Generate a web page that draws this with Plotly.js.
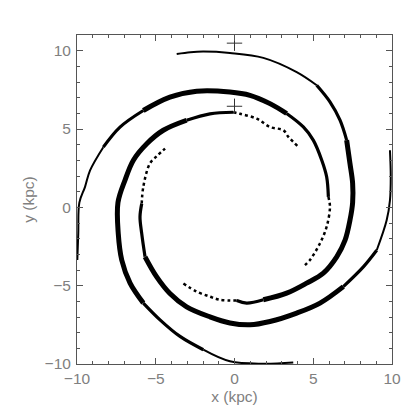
<!DOCTYPE html>
<html>
<head>
<meta charset="utf-8">
<script src="https://cdn.plot.ly/plotly-3.0.1.min.js"></script>
<style>
  html, body { margin: 0; padding: 0; background: #fff; }
  #chart { width: 415px; height: 415px; }
</style>
</head>
<body>
<div id="chart"></div>
<script>
// Arm traced from the top (-3.7, 9.8), winding clockwise inwards
const arm1X = [-3.67, -2.8, -1.98, -0.29, 1.83, 3.95, 5.22, 6.06, 6.70, 7.12, 7.33, 7.50, 7.50, 7.33, 7.02, 6.49, 5.64, 4.58, 3.31, 1.83, 0.77, 0.14, -0.92, -1.56, -2.4, -3.25];
const arm1Y = [9.79, 9.9, 9.94, 9.85, 9.54, 8.63, 7.79, 6.73, 5.56, 4.29, 2.80, 1.53, 0.3, -0.83, -2.10, -3.16, -4.2, -4.84, -5.48, -5.9, -6.11, -5.95, -5.9, -5.7, -5.38, -4.86];

// Arm starting on the right edge (10, 3.6)
const arm2X = [9.87, 9.92, 9.87, 9.66, 9.03, 8.18, 6.91, 5.43, 3.95, 2.25, 0.98, -0.29, -1.56, -3.04, -4.1, -4.94, -5.68, -5.89, -6.0, -5.89, -5.79, -5.37, -4.9, -4.41];
const arm2Y = [3.64, 2.0, 0.45, -0.83, -2.74, -3.8, -5.06, -6.11, -6.75, -7.29, -7.5, -7.38, -6.99, -6.35, -5.5, -4.44, -3.16, -1.68, -0.6, 0.24, 1.31, 2.8, 3.3, 3.75];

// Arm starting at the bottom (3.7, -9.9)
const arm3X = [3.73, 1.83, -0.29, -1.98, -3.46, -4.73, -5.79, -6.63, -7.16, -7.38, -7.4, -6.95, -6.42, -5.57, -4.52, -3.04, -1.56, -0.08, 0.35, 1.41, 2.25, 3.1, 3.42, 4.05];
const arm3Y = [-9.9, -9.98, -9.83, -9.09, -8.24, -7.18, -6.11, -4.84, -3.36, -1.68, 0.3, 1.74, 3.01, 4.06, 4.92, 5.56, 5.97, 6.07, 5.97, 5.66, 5.13, 4.92, 4.5, 3.86];

// Arm starting on the left edge (-10, -3.4)
const arm4X = [-9.98, -9.92, -9.85, -9.49, -9.17, -8.33, -7.27, -5.79, -4.1, -2.4, -0.29, 0.98, 2.25, 3.31, 4.37, 5.0, 5.54, 5.85, 5.96, 6.06, 5.85, 5.43, 4.79, 4.37];
const arm4Y = [-3.36, -1.68, 0.3, 1.31, 2.36, 3.84, 5.12, 6.18, 7.03, 7.41, 7.36, 7.15, 6.62, 5.99, 5.13, 4.29, 3.01, 1.95, 0.67, 0.03, -1.24, -2.29, -3.36, -3.78];

// the two "+" markers on the y axis
const markX = [0, 0];
const markY = [10.48, 6.45];

const tickVals = [-10, -5, 0, 5, 10];

// line styles for each stretch of an arm
const styles = {
  thin:   { width: 2 },
  mid:    { width: 3.2 },
  thick:  { width: 5 },
  sparse: { width: 2.5, dash: 'dot' }
};

function piece(xs, ys, from, to, kind) {
  return {
    x: xs.slice(from, to + 1), y: ys.slice(from, to + 1),
    type: 'scatter', mode: 'lines',
    line: Object.assign({ color: '#000', shape: 'spline' }, styles[kind]),
    showlegend: false, hoverinfo: 'skip'
  };
}

let traces = [];
[[arm1X, arm1Y, [[0, 6, 'thin'], [6, 9, 'mid'], [9, 19, 'thick'], [19, 21, 'mid'], [21, 25, 'sparse']]],
 [arm2X, arm2Y, [[0, 4, 'thin'], [4, 6, 'mid'], [6, 16, 'thick'], [16, 19, 'mid'], [19, 23, 'sparse']]],
 [arm3X, arm3Y, [[0, 3, 'thin'], [3, 6, 'mid'], [6, 15, 'thick'], [15, 17, 'mid'], [17, 23, 'sparse']]],
 [arm4X, arm4Y, [[0, 5, 'thin'], [5, 7, 'mid'], [7, 13, 'thick'], [13, 18, 'mid'], [18, 23, 'sparse']]]
].forEach(([xs, ys, parts]) => {
  parts.forEach(p => traces.push(piece(xs, ys, p[0], p[1], p[2])));
});

traces.push({
  x: markX, y: markY, type: 'scatter', mode: 'markers',
  marker: { symbol: 'cross-thin-open', size: 11, color: '#333', line: { color: '#333', width: 1 } },
  showlegend: false, hoverinfo: 'skip'
});

const tickFont = { family: 'Liberation Sans, Arial, sans-serif', size: 15.5, color: '#808080' };
const axisBase = {
  tickvals: tickVals,
  ticks: 'inside', ticklen: 6, tickcolor: '#555', tickwidth: 1,
  minor: { tickmode: 'linear', tick0: 0, dtick: 1, ticks: 'inside', ticklen: 3, tickcolor: '#555', showgrid: false },
  showline: true, linecolor: '#555', linewidth: 1, mirror: 'ticks',
  showgrid: false, zeroline: false,
  tickfont: tickFont
};

let layout = {
  width: 415, height: 415,
  margin: { l: 77, r: 23, t: 35, b: 51 },
  paper_bgcolor: '#fff', plot_bgcolor: '#fff',
  xaxis: Object.assign({}, axisBase, {
    range: [-10, 10],
    title: { text: 'x (kpc)', font: tickFont, standoff: 5 }
  }),
  yaxis: Object.assign({}, axisBase, {
    range: [-10, 11],
    ticklabelstandoff: 2,
    title: { text: 'y (kpc)', font: tickFont, standoff: 6 }
  })
};

Plotly.newPlot('chart', traces, layout, { staticPlot: true });
</script>
</body>
</html>
